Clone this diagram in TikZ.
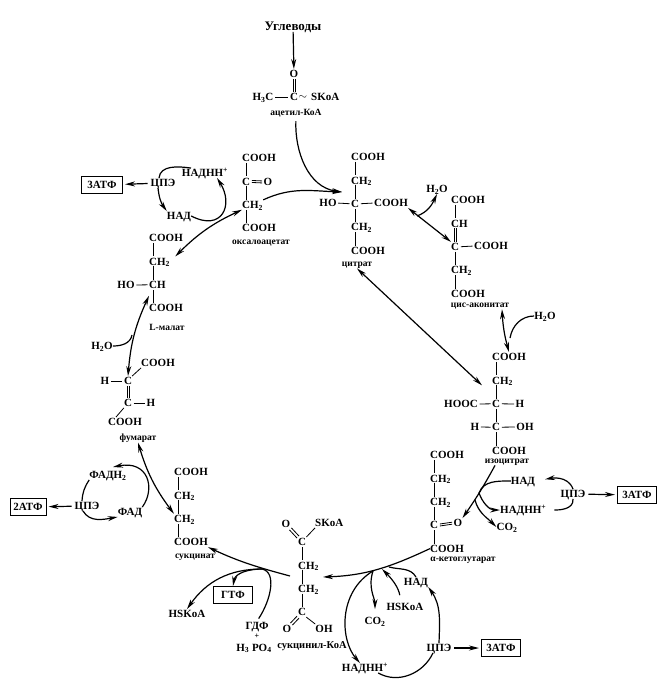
\documentclass[tikz,border=0pt]{standalone}
\usepackage{fontspec}
\setmainfont{Liberation Serif}
\usetikzlibrary{arrows.meta,positioning}

\begin{document}
\begin{tikzpicture}[
            x=1pt, y=-1pt,
            chem/.style={font=\fontsize{11}{12}\selectfont\bfseries, text height=7.5pt, text depth=0pt, inner xsep=0pt, inner ysep=1pt, anchor=west},
            under/.style={below=13.5pt of #1.south west, anchor=north west},
            lbl/.style={font=\fontsize{9.5}{11}\selectfont\bfseries, inner sep=0pt},
            tag/.style={draw, line width=1pt, font=\fontsize{11}{12}\selectfont\bfseries, minimum width=39pt, minimum height=17pt, inner sep=0pt},
            bond/.style={line width=0.8pt},
            hbond/.style={bond, shorten <=1.5pt, shorten >=1.5pt},
            arr/.style={->, line width=1.2pt},
            both/.style={<->, line width=1.2pt},
            arc/.style={line width=1.2pt},
            >={Stealth[length=10pt,width=5pt]}
        ]
        \useasboundingbox (0,0) rectangle (660,688);

        % acetyl-CoA
        \node[chem, font=\fontsize{13}{14}\selectfont\bfseries, anchor=center] (sugar) at (293,27) {Углеводы};
        \node[chem, anchor=center] (aco) at (294,74) {O};
        \node[chem, anchor=center] (acc) at (294,97) {C};
        \node[chem, anchor=center] (ach) at (263,97) {H\textsubscript{3}C};
        \node[chem, anchor=center] (act) at (303,96) {$\sim$};
        \node[chem] (acs) at (311,97) {SKoA};
        \node[lbl] (aclab) at (296,113) {ацетил-КоА};

        % citrate
        \node[chem] (cit1) at (351,157) {COOH};
        \node[chem, under=cit1] (cit2) {CH\textsubscript{2}};
        \node[chem, under=cit2] (cit3) {C};
        \node[chem, under=cit3] (cit4) {CH\textsubscript{2}};
        \node[chem, under=cit4] (cit5) {COOH};
        \node[chem, anchor=center] (citho) at (328,203) {HO};
        \node[chem] (citr) at (374,203) {COOH};
        \node[lbl] (citlab) at (357,265) {цитрат};

        % cis-aconitate
        \node[chem] (cis1) at (451,200) {COOH};
        \node[chem, under=cis1] (cis2) {CH};
        \node[chem, under=cis2] (cis3) {C};
        \node[chem, under=cis3] (cis4) {CH\textsubscript{2}};
        \node[chem, under=cis4] (cis5) {COOH};
        \node[chem] (cisr) at (474,246) {COOH};
        \node[lbl] (cislab) at (480,306) {цис-аконитат};
        \node[chem, anchor=center] (wcit) at (437,189) {H\textsubscript{2}O};
        \node[chem, anchor=center] (wcis) at (545,316) {H\textsubscript{2}O};

        % isocitrate
        \node[chem] (iso1) at (492,357) {COOH};
        \node[chem, under=iso1] (iso2) {CH\textsubscript{2}};
        \node[chem, under=iso2] (iso3) {C};
        \node[chem, under=iso3] (iso4) {C};
        \node[chem, under=iso4] (iso5) {COOH};
        \node[chem, anchor=center] (isol) at (461,404) {HOOC};
        \node[chem, anchor=center] (isor) at (520,404) {H};
        \node[chem, anchor=center] (isoh) at (475,427) {H};
        \node[chem, anchor=center] (isoo) at (525,427) {OH};
        \node[lbl] (isolab) at (507,462) {изоцитрат};

        % cofactors right
        \node[chem, anchor=center] (nadr) at (523,481) {НАД};
        \node[chem] (nadhr) at (500,510) {НАДНН\textsuperscript{+}};
        \node[chem, anchor=center] (co2r) at (507,527) {CO\textsubscript{2}};
        \node[chem, anchor=center] (cper) at (573,494) {ЦПЭ};
        \node[tag] (atpr) at (637,495) {3АТФ};

        % ketoglutarate
        \node[chem] (ket1) at (430,455) {COOH};
        \node[chem, under=ket1] (ket2) {CH\textsubscript{2}};
        \node[chem, under=ket2] (ket3) {CH\textsubscript{2}};
        \node[chem, under=ket3] (ket4) {C};
        \node[chem, under=ket4] (ket5) {COOH};
        \node[chem, anchor=center] (keto) at (458,523) {O};
        \node[lbl] (ketlab) at (463,560) {α-кетоглутарат};

        % cofactors bottom
        \node[chem, anchor=center] (nadb) at (416,582) {НАД};
        \node[chem, anchor=center] (hskb) at (405,607) {HSKoA};
        \node[chem, anchor=center] (co2b) at (375,621) {CO\textsubscript{2}};
        \node[chem, anchor=center] (nadhb) at (365,668) {НАДНН\textsuperscript{+}};
        \node[chem, anchor=center] (cpeb) at (439,648) {ЦПЭ};
        \node[tag] (atpb) at (501,648) {3АТФ};

        % succinyl-CoA
        \node[chem, anchor=center] (suo) at (286,524) {O};
        \node[chem] (sus) at (315,523) {SKoA};
        \node[chem] (suc1) at (298,542) {C};
        \node[chem, under=suc1] (suc2) {CH\textsubscript{2}};
        \node[chem, under=suc2] (suc3) {CH\textsubscript{2}};
        \node[chem, under=suc3] (suc4) {C};
        \node[chem, anchor=center] (suo2) at (287,629) {O};
        \node[chem, anchor=center] (suh) at (324,629) {OH};
        \node[lbl, font=\fontsize{10.5}{12}\selectfont\bfseries] (suclab) at (312,646) {сукцинил-КоА};

        % cofactors of succinate
        \node[chem, anchor=center] (gdf) at (257,626) {ГДФ};
        \node[lbl, font=\fontsize{8}{8}\selectfont\bfseries] (plus) at (257,636.5) {+};
        \node[chem, anchor=center] (hpo) at (254,647.5) {H\textsubscript{3} PO\textsubscript{4}};
        \node[chem, anchor=center] (hskl) at (187,614) {HSKoA};
        \node[tag] (gtf) at (233,595) {ГТФ};

        % succinate
        \node[chem] (sa1) at (174,472) {COOH};
        \node[chem, under=sa1] (sa2) {CH\textsubscript{2}};
        \node[chem, under=sa2] (sa3) {CH\textsubscript{2}};
        \node[chem, under=sa3] (sa4) {COOH};
        \node[lbl] (salab) at (195,557) {сукцинат};

        % FAD loop
        \node[chem, anchor=center] (fadh) at (108,475) {ФАДН\textsubscript{2}};
        \node[chem, anchor=center] (fad) at (130,512) {ФАД};
        \node[chem, anchor=center] (cpef) at (87,506) {ЦПЭ};
        \node[tag, minimum width=36pt] (atpf) at (28,507) {2АТФ};

        % fumarate
        \node[chem] (fa1) at (141,363) {COOH};
        \node[chem, anchor=center] (fc1) at (128,381) {C};
        \node[chem, anchor=center] (fc2) at (128,403) {C};
        \node[chem, anchor=center] (fh1) at (105,381) {H};
        \node[chem, anchor=center] (fh2) at (151,403) {H};
        \node[chem] (fa2) at (108,422) {COOH};
        \node[lbl] (falab) at (138,438) {фумарат};

        % malate
        \node[chem] (mal1) at (149,238) {COOH};
        \node[chem, under=mal1] (mal2) {CH\textsubscript{2}};
        \node[chem, under=mal2] (mal3) {CH};
        \node[chem, under=mal3] (mal4) {COOH};
        \node[chem, anchor=center] (malo) at (126,285) {HO};
        \node[lbl] (mallab) at (167,327) {L-малат};
        \node[chem, anchor=center] (wmal) at (102,346) {H\textsubscript{2}O};

        % oxaloacetate
        \node[chem] (oxa1) at (242,158) {COOH};
        \node[chem, under=oxa1] (oxa2) {C};
        \node[chem, under=oxa2] (oxa3) {CH\textsubscript{2}};
        \node[chem, under=oxa3] (oxa4) {COOH};
        \node[chem, anchor=center] (oxao) at (268,182) {O};
        \node[lbl] (oxalab) at (261,243) {оксалоацетат};

        % cofactors left
        \node[chem, anchor=center] (cpel) at (163,183) {ЦПЭ};
        \node[tag, minimum width=41pt] (atpl) at (102,185) {3АТФ};
        \node[chem, anchor=center] (nadhl) at (205,173) {НАДНН\textsuperscript{+}};
        \node[chem, anchor=center] (nadl) at (179,216) {НАД};

        % junctions on the curved arrows
        \coordinate (citin) at (342,192);
        \coordinate (jcit) at (417,216);
        \coordinate (jcis) at (510,338);
        \coordinate (jmal) at (132,335);
        \coordinate (jiso) at (479,493);
        \coordinate (jco) at (475,500);
        \coordinate (sucin) at (323,577);
        \coordinate (jket) at (373,571);
        \coordinate (jhsk) at (382,569);
        \coordinate (jnad) at (389,567);
        \coordinate (sucout) at (290,576);
        \coordinate (jsuc) at (262,569);

        % bonds
        \foreach \a/\b in {cit1/cit2,cit2/cit3,cit3/cit4,cit4/cit5,cis1/cis2,cis3/cis4,cis4/cis5,
                iso1/iso2,iso2/iso3,iso3/iso4,iso4/iso5,ket1/ket2,ket2/ket3,ket3/ket4,ket4/ket5,
                suc1/suc2,suc2/suc3,suc3/suc4,sa1/sa2,sa2/sa3,sa3/sa4,mal1/mal2,mal2/mal3,mal3/mal4,
                oxa1/oxa2,oxa2/oxa3,oxa3/oxa4}
            \draw[bond] ([xshift=4pt]\a.south west) -- ([xshift=4pt]\b.north west);
        \foreach \a/\b in {ach/acc,citho/cit3,cit3/citr,cis3/cisr,isol/iso3,iso3/isor,isoh/iso4,iso4/isoo,fh1/fc1,fc2/fh2,malo/mal3}
            \draw[hbond] (\a.east) -- (\b.west);
        \foreach \s in {-1,1} {
            \draw[bond] ([xshift=\s pt]aco.south) -- ([xshift=\s pt]acc.north);
            \draw[bond] ([xshift=\s pt]fc1.south) -- ([xshift=\s pt]fc2.north);
            \draw[bond] ([xshift=4pt,xshift=\s pt]cis2.south west) -- ([xshift=4pt,xshift=\s pt]cis3.north west);
            \draw[hbond] ([yshift=\s pt]ket4.east) -- ([yshift=\s pt]keto.west);
            \draw[hbond] ([yshift=\s pt]oxa2.east) -- ([yshift=\s pt]oxao.west);
            \draw[bond] ([xshift=\s pt,yshift=\s pt]suc1.north west) -- ([xshift=\s pt,yshift=\s pt]suo.south east);
            \draw[bond] ([xshift=\s pt,yshift=-\s pt]suc4.south west) -- ([xshift=\s pt,yshift=-\s pt]suo2.north east);
        }
        \draw[bond] (suc1.north east) -- (sus.south west);
        \draw[bond] (suc4.south east) -- (suh.north west);
        \draw[bond] (fc1.north east) -- (fa1.south west);
        \draw[bond] (fc2.south west) -- ([xshift=8pt]fa2.north west);

        % cycle
        \draw[arr] (sugar) -- (aco);
        \draw[arr, shorten <=4pt] (aclab.south) to[out=-92, in=172] (citin);
        \draw[arr] (oxa3.north east) to[out=25, in=178] (citin);
        \draw[both] (citr.south east) -- (cis3.north west);
        \draw[both] (citlab.south) -- ([xshift=-10pt]iso2.south west);
        \draw[both] ([xshift=22pt]cislab.south) to[bend right=6] (iso1.north);
        \draw[arr] ([xshift=-12pt]isolab.south) to[bend left=3] (keto.north east);
        \draw[arr] (ket5.west) to[out=205, in=2] (sucin);
        \draw[arr] (sucout) to[out=165, in=-25] (sa4.south east);
        \draw[both] (falab.south) to[bend right=10] (sa3.north west);
        \draw[both] ([yshift=-6pt]mal3.south west) to[bend right=10] (fc1.north);
        \draw[both] (oxa3.south west) to[bend right=10] ([xshift=5pt]mal2.north east);

        % side arrows
        \draw[arr] (jcit) to[out=20, in=-115] (wcit.south);
        \draw[arc] (wcis.west) to[out=180, in=80] (jcis);
        \draw[arc] (wmal.east) to[out=0, in=-100] (jmal);

        \draw[arc] (nadr.west) to[out=180, in=70] (jiso);
        \draw[arr] (jiso) to[out=-70, in=180] (nadhr.west);
        \draw[arr] (jco) to[out=-75, in=135] (co2r.west);
        \draw[arr, shorten <=3pt, shorten >=2pt] (cper) -- (atpr);
        \draw[arr, shorten >=10pt] (cper.north) to[out=110, in=10] (nadr.east);
        \draw[arc, shorten <=8pt] (nadhr.east) to[out=0, in=-85] (cper.south);

        \draw[arr, shorten <=7pt] ([xshift=-4pt]hskb.north) to[out=100, in=-45] (jhsk);
        \draw[arc] (nadb.north) to[out=120, in=-15] (jnad);
        \draw[arr, shorten >=7pt] (jket) to[out=-108, in=90] (co2b.north);
        \draw[arr] (jket) .. controls (338,592) and (340,640) .. ([xshift=-5pt]nadhb.north);
        \draw[arc] ([xshift=-10pt]nadhb.south east) to[out=-30, in=-115] ([xshift=-6pt]cpeb.south);
        \draw[arr] (cpeb.north) to[out=88, in=-55] (nadb.south east);
        \draw[arr, shorten <=3pt, shorten >=2pt] (cpeb) -- (atpb);

        \draw[arc, shorten <=3pt] (gdf.north) .. controls (271,600) and (277,572) .. (jsuc);
        \draw[arr] (jsuc) to[out=180, in=80] (gtf.north);
        \draw[arr] (jsuc) to[out=180, in=55] (hskl.north);

        \draw[arr] (fad.north east) .. controls (156,488) and (148,460) .. ([xshift=5pt,yshift=3pt]fadh.north);
        \draw[arc] (fadh.south west) to[bend right=15] ([xshift=-5pt]cpef.north);
        \draw[arr] ([xshift=-4pt]cpef.south) to[out=-60, in=190] (fad.south west);
        \draw[arr, shorten <=3pt, shorten >=2pt] (cpef) -- (atpf);

        \draw[arr, shorten <=3pt, shorten >=2pt] (cpel) -- (atpl);
        \draw[arc] ([xshift=-4pt]cpel.north) to[out=85, in=172] ([xshift=-14pt]nadhl.north);
        \draw[arr] ([xshift=-5pt]cpel.south) to[bend right=15] (nadl.north west);
        \draw[arr] (nadl.east) .. controls (222,232) and (234,205) .. ([xshift=12pt]nadhl.south);
    \end{tikzpicture}
\end{document}
